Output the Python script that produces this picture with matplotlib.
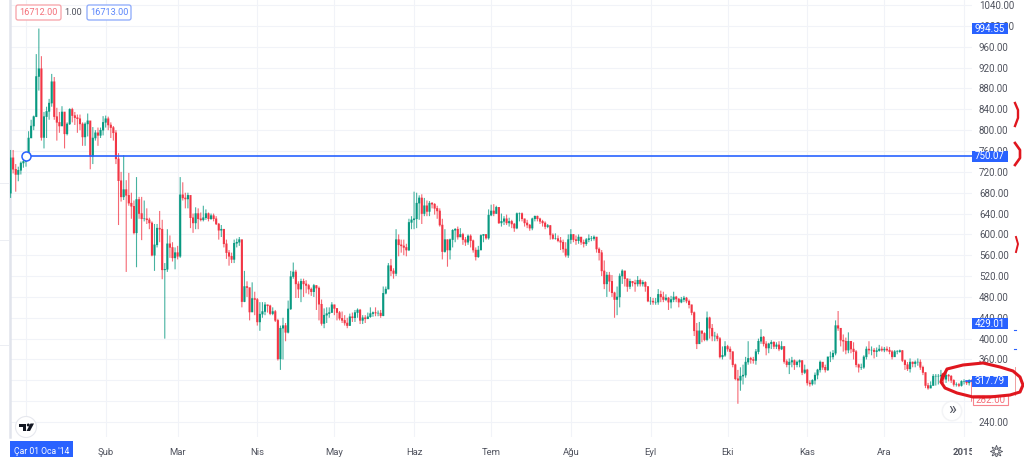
import numpy as np
import pandas as pd
import matplotlib
matplotlib.use('Agg')
import matplotlib.pyplot as plt
import matplotlib.dates as mdates
from matplotlib.patches import Rectangle, FancyBboxPatch, Circle, Polygon

plt.rcParams['font.family'] = ['Roboto', 'DejaVu Sans']

FIRST_DAY = '2013-12-26'
first_open = 679

closes = [
    747, 725, 715, 723, 737, 740, 752, 785, 808, 826,
    903, 918, 786, 826, 836, 852, 893, 826, 815, 808,
    835, 793, 812, 840, 828, 824, 822, 812, 787, 812,
    818, 750, 785, 795, 790, 800, 815, 822, 810, 805,
    795, 745, 703, 672, 686, 675, 660, 654, 603, 667,
    640, 630, 630, 628, 622, 560, 580, 612, 610, 532,
    533, 582, 575, 555, 565, 558, 676, 670, 668, 675,
    632, 622, 640, 630, 628, 632, 640, 630, 636, 630,
    620, 608, 610, 582, 565, 558, 552, 583, 585, 590,
    471, 500, 498, 451, 477, 475, 432, 447, 452, 465,
    463, 448, 452, 435, 361, 420, 425, 412, 457, 519,
    528, 505, 495, 510, 505, 502, 495, 490, 502, 497,
    466, 429, 445, 448, 450, 465, 458, 450, 439, 435,
    430, 425, 442, 440, 450, 455, 435, 440, 438, 442,
    448, 450, 449, 449, 444, 487, 495, 540, 530, 525,
    590, 580, 578, 575, 570, 623, 628, 630, 660, 670,
    640, 655, 644, 660, 658, 650, 645, 618, 567, 590,
    570, 590, 608, 610, 595, 600, 590, 585, 597, 588,
    570, 557, 570, 598, 600, 593, 637, 645, 640, 652,
    622, 625, 630, 622, 625, 620, 612, 640, 640, 630,
    622, 618, 612, 630, 635, 630, 625, 622, 615, 617,
    599, 592, 592, 588, 585, 572, 560, 590, 600, 590,
    588, 595, 585, 582, 590, 592, 592, 595, 572, 565,
    530, 505, 522, 510, 488, 475, 480, 520, 530, 515,
    500, 510, 507, 505, 512, 505, 508, 500, 472, 472,
    470, 470, 485, 480, 475, 478, 470, 475, 480, 476,
    470, 475, 478, 472, 465, 450, 415, 390, 415, 410,
    398, 440, 420, 405, 405, 400, 365, 368, 385, 380,
    375, 350, 323, 320, 328, 330, 355, 362, 360, 358,
    375, 395, 403, 390, 382, 390, 393, 385, 388, 380,
    385, 356, 350, 355, 358, 350, 355, 358, 335, 340,
    315, 313, 320, 330, 340, 355, 345, 340, 365, 365,
    372, 425, 420, 397, 395, 378, 395, 380, 375, 350,
    345, 345, 365, 380, 378, 378, 375, 377, 380, 378,
    380, 378, 375, 365, 375, 375, 377, 358, 350, 342,
    355, 352, 355, 355, 345, 335, 310, 305, 310, 328,
    328, 328, 330, 322, 330, 328, 320, 312, 312, 310,
    318, 318, 315, 320, 317.79,
]
highs = [
    762, 762, 735, 730, 740, 745, 755, 798, 820, 828,
    946, 995, 942, 835, 845, 860, 908, 902, 843, 835,
    846, 815, 815, 842, 843, 835, 830, 830, 815, 815,
    832, 812, 806, 800, 805, 805, 827, 828, 826, 815,
    808, 800, 756, 720, 752, 704, 718, 680, 665, 710,
    672, 672, 665, 650, 632, 625, 620, 620, 645, 628,
    545, 610, 598, 585, 575, 578, 710, 700, 680, 680,
    670, 640, 652, 650, 642, 655, 648, 642, 640, 640,
    635, 622, 618, 610, 590, 570, 565, 590, 592, 595,
    580, 530, 510, 490, 508, 490, 478, 470, 470, 470,
    465, 465, 460, 455, 438, 425, 440, 430, 473, 530,
    546, 532, 510, 515, 515, 512, 505, 498, 505, 502,
    500, 475, 458, 460, 460, 470, 465, 458, 453, 452,
    445, 440, 448, 450, 455, 458, 457, 445, 445, 450,
    460, 452, 460, 454, 455, 500, 500, 545, 553, 535,
    610, 600, 590, 590, 582, 630, 635, 682, 680, 675,
    677, 670, 665, 664, 662, 660, 655, 650, 630, 610,
    590, 592, 610, 612, 615, 612, 603, 595, 600, 600,
    590, 575, 578, 600, 600, 600, 648, 657, 658, 655,
    652, 640, 635, 638, 632, 628, 622, 642, 642, 642,
    630, 628, 620, 632, 636, 636, 632, 628, 625, 620,
    618, 602, 602, 598, 595, 590, 585, 600, 610, 600,
    598, 600, 595, 590, 593, 600, 597, 598, 594, 575,
    570, 550, 528, 528, 522, 490, 500, 525, 533, 530,
    515, 515, 510, 513, 520, 515, 512, 510, 500, 480,
    478, 478, 495, 492, 490, 485, 480, 482, 490, 482,
    478, 480, 482, 480, 475, 465, 452, 430, 432, 415,
    412, 452, 442, 428, 413, 410, 403, 385, 395, 388,
    385, 375, 352, 340, 345, 350, 365, 395, 365, 365,
    380, 400, 418, 405, 395, 392, 397, 395, 393, 395,
    395, 385, 360, 362, 365, 360, 358, 360, 358, 350,
    342, 320, 322, 335, 342, 358, 355, 350, 365, 375,
    378, 435, 453, 420, 408, 402, 412, 395, 393, 378,
    352, 352, 368, 385, 395, 385, 382, 383, 388, 385,
    384, 385, 384, 378, 378, 378, 379, 378, 360, 355,
    362, 356, 358, 362, 360, 348, 335, 315, 318, 332,
    332, 332, 340, 335, 335, 332, 330, 322, 316, 315,
    320, 322, 320, 322, 322,
]
lows = [
    670, 717, 682, 702, 715, 728, 730, 748, 785, 800,
    825, 876, 780, 765, 785, 820, 845, 820, 780, 795,
    808, 765, 790, 810, 815, 810, 795, 800, 770, 770,
    788, 725, 735, 780, 770, 785, 790, 805, 800, 785,
    780, 735, 618, 663, 666, 528, 655, 630, 600, 537,
    630, 589, 625, 620, 610, 558, 530, 575, 585, 514,
    400, 528, 555, 548, 533, 552, 555, 665, 650, 650,
    612, 603, 610, 610, 625, 625, 628, 625, 628, 625,
    618, 590, 595, 575, 553, 540, 545, 545, 575, 578,
    460, 470, 480, 435, 452, 445, 425, 415, 440, 445,
    450, 445, 445, 432, 358, 340, 360, 395, 410, 455,
    515, 478, 478, 470, 480, 487, 485, 482, 480, 455,
    435, 425, 420, 430, 440, 450, 445, 435, 435, 430,
    425, 420, 425, 432, 432, 440, 428, 428, 430, 438,
    440, 442, 443, 443, 440, 443, 485, 495, 520, 515,
    520, 558, 565, 560, 558, 568, 610, 610, 612, 628,
    620, 635, 635, 635, 650, 638, 630, 615, 552, 565,
    538, 552, 575, 585, 590, 595, 580, 578, 580, 575,
    565, 550, 555, 570, 585, 590, 590, 635, 635, 640,
    620, 615, 618, 618, 615, 612, 605, 610, 625, 625,
    615, 612, 607, 608, 625, 625, 620, 615, 610, 612,
    590, 590, 590, 585, 570, 565, 556, 555, 582, 585,
    580, 582, 580, 575, 578, 585, 587, 588, 565, 550,
    520, 495, 480, 490, 480, 440, 445, 460, 505, 500,
    490, 495, 500, 490, 500, 500, 500, 490, 470, 465,
    465, 465, 465, 470, 470, 472, 455, 458, 470, 470,
    460, 468, 470, 468, 458, 445, 405, 380, 392, 393,
    395, 395, 400, 395, 395, 395, 362, 360, 365, 375,
    360, 345, 320, 275, 300, 312, 325, 350, 352, 352,
    350, 370, 390, 385, 368, 372, 380, 380, 380, 376,
    378, 352, 345, 332, 345, 340, 345, 345, 330, 332,
    310, 308, 310, 312, 322, 335, 340, 335, 338, 355,
    360, 368, 415, 385, 375, 370, 372, 372, 360, 345,
    335, 340, 342, 360, 370, 368, 362, 365, 375, 375,
    374, 375, 370, 360, 365, 370, 373, 355, 340, 338,
    335, 345, 345, 348, 340, 330, 305, 302, 305, 310,
    310, 312, 315, 315, 315, 318, 315, 308, 308, 307,
    308, 312, 311, 310, 279,
]

price_ticks = [1040, 1000, 960, 920, 880, 840, 800, 760, 720, 680, 640, 600,
               560, 520, 480, 440, 400, 360, 320, 280, 240]
month_dates = ['2014-01-01', '2014-02-01', '2014-03-01', '2014-04-01', '2014-05-01', '2014-06-01',
               '2014-07-01', '2014-08-01', '2014-09-01', '2014-10-01', '2014-11-01', '2014-12-01',
               '2015-01-01']
month_labels = ['', 'Şub', 'Mar', 'Nis', 'May', 'Haz', 'Tem', 'Ağu', 'Eyl', 'Eki', 'Kas', 'Ara', '2015']
line_price = 750.07
line_start = '2014-01-01'
blue_tags = [994.55, 750.07, 429.01, 317.79]
red_tag = 282.00
bid_text = '16712.00'
size_text = '1.00'
ask_text = '16713.00'
cursor_text = "Çar 01 Oca '14"

GREEN = '#089981'
RED = '#f23645'
BLUE = '#2962ff'
GRID = '#f1f3f8'
TEXT = '#50535e'
PEN = '#e0161e'

W, H = 1024, 457
fig = plt.figure(figsize=(W / 100, H / 100), dpi=100)
ax = fig.add_axes([10 / W, (H - 437) / H, 962 / W, 437 / H])

days = mdates.date2num(pd.date_range(FIRST_DAY, periods=len(closes)))
closes = np.array(closes, dtype=float)
opens = np.r_[first_open, closes[:-1]]
colors = np.where(closes >= opens, GREEN, RED)

# snap off so thin wicks blur a bit, like the scaled screenshot
ax.vlines(days, lows, highs, colors=colors, linewidth=0.8, alpha=0.75, zorder=3).set_snap(False)
bars = ax.bar(days, np.abs(closes - opens) + 1, bottom=np.minimum(opens, closes) - 0.5,
              width=0.82, color=colors, linewidth=0, zorder=4)
for b in bars:
    b.set_snap(False)

jan1 = mdates.date2num(pd.Timestamp(line_start))
ax.set_xlim(jan1 - 16 / 2.57, jan1 + 946 / 2.57)
ax.set_ylim(240 - 15 * 1.919, 240 + 422 * 1.919)

ax.hlines(line_price, jan1, ax.get_xlim()[1], color=BLUE, linewidth=1.2, zorder=5)
ax.plot([jan1], [line_price], 'o', ms=6.5, mfc='white', mec=BLUE, mew=1.1, zorder=6)

month_x = mdates.date2num(pd.to_datetime(month_dates))
ax.set_xticks(month_x)
ax.set_xticklabels(month_labels, fontsize=6.8, color=TEXT)
ax.get_xticklabels()[-1].set_fontweight('bold')
ax.set_yticks(price_ticks)
ax.set_yticklabels(['%.2f' % p for p in price_ticks], fontsize=7, color=TEXT)
ax.yaxis.tick_right()
ax.tick_params(axis='y', length=0, pad=5)
ax.tick_params(axis='x', length=0, pad=8)
ax.grid(color=GRID, linewidth=0.8, zorder=0)
ax.set_axisbelow(True)
for side in ['top', 'right', 'bottom']:
    ax.spines[side].set_visible(False)
ax.spines['left'].set_color('#e1e4ec')
ax.spines['left'].set_linewidth(1.8)

# overlay in pixel coordinates for the chart furniture
ov = fig.add_axes([0, 0, 1, 1], facecolor='none')
ov.set_xlim(0, W)
ov.set_ylim(H, 0)
ov.axis('off')


def px_y(price):
    return (1 - fig.transFigure.inverted().transform(ax.transData.transform((0, price)))[1]) * H


for tag in blue_tags:
    y = px_y(tag)
    ov.add_patch(Rectangle((972, y - 5.5), 36, 11, fc=BLUE, ec='none', zorder=7))
    ov.text(990, y, '%.2f' % tag, color='white', fontsize=7, ha='center', va='center', zorder=8)
y = px_y(red_tag)
ov.add_patch(Rectangle((972.5, y - 5), 35, 10, fc='white', ec='#f7838c', lw=0.8, zorder=7))
ov.text(990, y, '%.2f' % red_tag, color='#f4707a', fontsize=7, ha='center', va='center', zorder=8)
ov.plot([966, 972], [px_y(317.79)] * 2, color=BLUE, lw=1.2, zorder=6)

# stubs of the neighbouring panel left of the chart
for stub_y in [183, 240, 345]:
    ov.plot([0, 8], [stub_y, stub_y], color='#eceef3', lw=0.7, zorder=1)

# order box on the top left
ov.add_patch(FancyBboxPatch((16, 5), 45, 15, boxstyle='round,pad=0,rounding_size=2',
                            fc='white', ec='#f7a0a6', lw=0.9, zorder=7))
ov.text(38.5, 12.8, bid_text, color='#f4707a', fontsize=6.6, ha='center', va='center', zorder=8)
ov.text(73, 12.5, size_text, color=TEXT, fontsize=6.6, ha='center', va='center', zorder=8)
ov.add_patch(FancyBboxPatch((87, 5), 44, 15, boxstyle='round,pad=0,rounding_size=2',
                            fc='white', ec='#8aa8fb', lw=0.9, zorder=7))
ov.text(109, 12.8, ask_text, color='#5b86fb', fontsize=6.6, ha='center', va='center', zorder=8)

# crosshair date, clipped 2015 label and settings gear
ov.add_patch(Rectangle((10, 441), 63, 16, fc=BLUE, ec='none', zorder=7))
ov.text(41.5, 451, cursor_text, color='white', fontsize=6.2, ha='center', va='center', zorder=8)
ov.add_patch(Rectangle((972, 439), 52, 18, fc='white', ec='none', zorder=7))
ov.plot([996], [451], marker=(8, 1, 0), ms=9, mfc='white', mec='#50535e', mew=0.6, zorder=8)
ov.plot([996], [451], 'o', ms=3.5, mfc='white', mec='#50535e', mew=0.6, zorder=9)

# logo and scroll button
ov.add_patch(Circle((26, 427), 10.5, fc='white', ec='#e6e8ee', lw=0.8, zorder=7))
ov.add_patch(Polygon([(19, 423.5), (26, 423.5), (26, 431), (22.5, 431), (22.5, 426.5), (19, 426.5)],
                     fc='#131722', ec='none', zorder=8))
ov.add_patch(Circle((28.3, 425), 1.5, fc='#131722', ec='none', zorder=8))
ov.add_patch(Polygon([(30.5, 423.5), (34, 423.5), (30, 431), (26.5, 431)], fc='#131722', ec='none', zorder=8))
ov.add_patch(Circle((952, 411), 10.5, fc='#eff0f3', ec='none', alpha=0.7, zorder=7))
ov.add_patch(Circle((952, 411), 9, fc='white', ec='none', zorder=7))
ov.text(952, 409.5, '»', color='#50535e', fontsize=12, ha='center', va='center', zorder=8)

# red hand drawn marks
pen_x = [943, 947, 963, 983, 1000, 1013, 1020, 1023, 1020, 1010, 990, 973, 957, 945, 941, 943]
pen_y = [377, 369, 365, 363, 367, 371, 377, 385, 392, 395, 397, 397, 393, 388, 382, 375]
ov.plot(pen_x, pen_y, color=PEN, lw=2.2, solid_joinstyle='round', zorder=9)
ov.plot([1015, 1015], [367, 395], color='#f0a0a0', lw=0.7, zorder=6)
ov.plot([1015, 1018, 1018, 1015], [103, 110, 118, 126], color=PEN, lw=1.7, zorder=9)
ov.plot([1015, 1020, 1020, 1015], [143, 150, 158, 165], color=PEN, lw=1.9, zorder=9)
ov.plot([1016, 1018, 1016], [237, 244, 252], color=PEN, lw=1.4, zorder=9)
ov.plot([1014, 1016], [330, 330], color=BLUE, lw=0.8, zorder=9)
ov.plot([1014, 1016], [349, 349], color=BLUE, lw=0.8, zorder=9)

fig.savefig('out.png', dpi=100)
